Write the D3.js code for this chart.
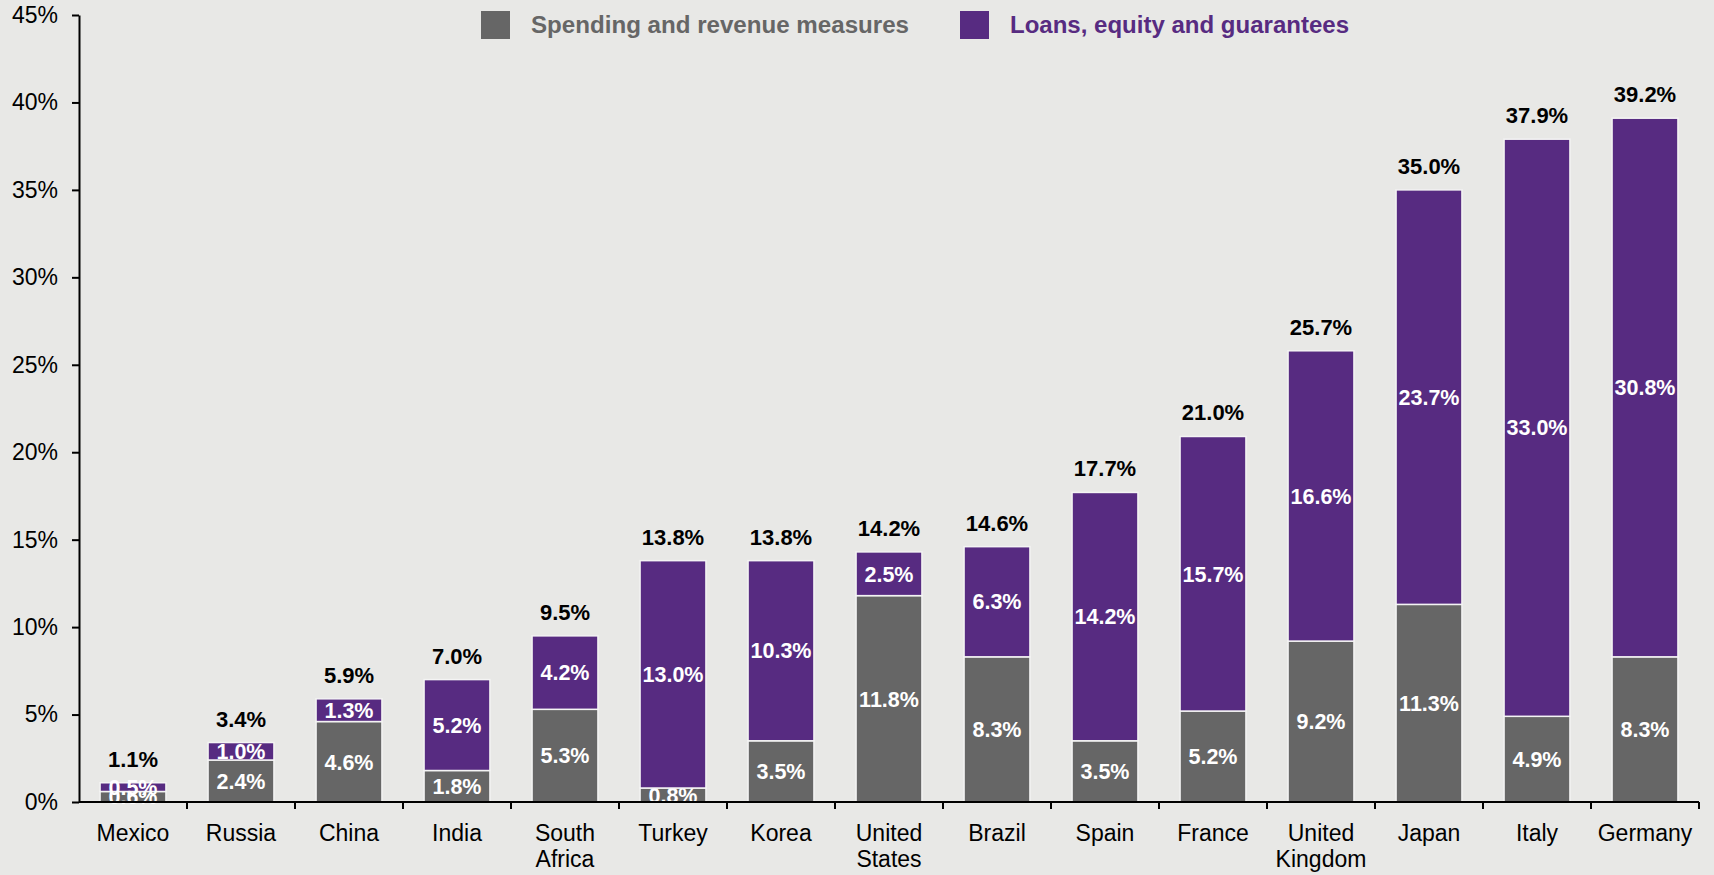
<!DOCTYPE html>
<html>
<head>
<meta charset="utf-8">
<script src="https://cdn.jsdelivr.net/npm/d3@7"></script>
<style>
  html, body { margin: 0; padding: 0; background: #e8e8e6; }
  svg { display: block; font-family: "Liberation Sans", Arial, sans-serif; }
</style>
</head>
<body>
<div id="chart"></div>
<script>
// Data
const countries = ["Mexico", "Russia", "China", "India", "South Africa", "Turkey", "Korea",
  "United States", "Brazil", "Spain", "France", "United Kingdom", "Japan", "Italy", "Germany"]
const spending = [0.6, 2.4, 4.6, 1.8, 5.3, 0.8, 3.5, 11.8, 8.3, 3.5, 5.2, 9.2, 11.3, 4.9, 8.3]
const loans = [0.5, 1.0, 1.3, 5.2, 4.2, 13.0, 10.3, 2.5, 6.3, 14.2, 15.7, 16.6, 23.7, 33.0, 30.8]
const totals = [1.1, 3.4, 5.9, 7.0, 9.5, 13.8, 13.8, 14.2, 14.6, 17.7, 21.0, 25.7, 35.0, 37.9, 39.2]
const yTicks = [0, 5, 10, 15, 20, 25, 30, 35, 40, 45]
const seriesNames = ["Spending and revenue measures", "Loans, equity and guarantees"]

// Settings
const SIZE = [1714, 875]
const MARGIN = {top: 15, right: 15, bottom: 73, left: 79}
const COLORS = ["#666666", "#572b81"]

const svg = d3.select("#chart").append("svg")
  .attr("width", SIZE[0])
  .attr("height", SIZE[1])

svg.append("rect")
  .attr("width", SIZE[0]).attr("height", SIZE[1])
  .attr("fill", "#e8e8e6")

const x = d3.scaleBand()
  .domain(countries)
  .range([MARGIN.left, SIZE[0] - MARGIN.right])
  .paddingInner(0.39)
  .paddingOuter(0.195)

const y = d3.scaleLinear()
  .domain([0, 45])
  .range([SIZE[1] - MARGIN.bottom, MARGIN.top])

const table = countries.map((c, i) => ({country: c, spending: spending[i], loans: loans[i], total: totals[i]}))
const stacked = d3.stack().keys(["spending", "loans"])(table)

// bars
const layers = svg.append("g")
  .selectAll("g")
  .data(stacked)
  .join("g")
    .attr("fill", (d, i) => COLORS[i])

layers.selectAll("rect")
  .data(d => d)
  .join("rect")
    .attr("x", d => x(d.data.country))
    .attr("width", x.bandwidth())
    .attr("y", d => y(d[1]))
    .attr("height", d => y(d[0]) - y(d[1]))
    .attr("stroke", "#f4f4f4")
    .attr("stroke-width", 1.5)

// segment labels (Mexico's overlap in the original too)
layers.selectAll("text")
  .data(d => d.map(p => ({p, key: d.key})))
  .join("text")
    .attr("x", d => x(d.p.data.country) + x.bandwidth() / 2)
    .attr("y", d => (y(d.p[0]) + y(d.p[1])) / 2)
    .attr("dy", "0.36em")
    .attr("text-anchor", "middle")
    .attr("fill", "#ffffff")
    .attr("font-weight", "bold")
    .attr("font-size", 21.5)
    .text(d => d.p.data[d.key].toFixed(1) + "%")

// totals
svg.append("g")
  .selectAll("text")
  .data(table)
  .join("text")
    .attr("x", d => x(d.country) + x.bandwidth() / 2)
    .attr("y", d => y(d.spending + d.loans) - 16)
    .attr("text-anchor", "middle")
    .attr("font-weight", "bold")
    .attr("font-size", 22)
    .attr("fill", "#000")
    .text(d => d.total.toFixed(1) + "%")

// y axis
svg.append("g")
  .attr("transform", `translate(${MARGIN.left},0)`)
  .call(d3.axisLeft(y).tickValues(yTicks).tickFormat(d => d + "%").tickSize(7).tickSizeOuter(0).tickPadding(14))
  .call(g => g.selectAll("text").attr("font-size", 23).attr("fill", "#000").attr("font-family", "Liberation Sans, Arial, sans-serif"))
  .call(g => g.selectAll("line, path").attr("stroke", "#000").attr("stroke-width", 2))

// x axis with ticks at band boundaries
const xAxisY = y(0)
const xg = svg.append("g")
xg.append("line")
  .attr("x1", MARGIN.left).attr("x2", SIZE[0] - MARGIN.right)
  .attr("y1", xAxisY).attr("y2", xAxisY)
  .attr("stroke", "#000").attr("stroke-width", 2)
const step = x.step()
const bounds = countries.map((c, i) => x(c) - x.paddingInner() * step / 2 + step)
xg.selectAll(".btick")
  .data(bounds)
  .join("line")
    .attr("x1", d => d).attr("x2", d => d)
    .attr("y1", xAxisY).attr("y2", xAxisY + 7)
    .attr("stroke", "#000").attr("stroke-width", 2)

xg.selectAll(".clabel")
  .data(countries)
  .join("text")
    .attr("x", d => x(d) + x.bandwidth() / 2)
    .attr("y", xAxisY + 39)
    .attr("text-anchor", "middle")
    .attr("font-size", 23)
    .attr("fill", "#000")
    .each(function(d) {
      const words = d.split(" ")
      const t = d3.select(this)
      words.forEach((w, i) => t.append("tspan")
        .attr("x", x(d) + x.bandwidth() / 2)
        .attr("dy", i === 0 ? 0 : 26)
        .text(w))
    })

// legend
const legendX = [481, 960]
const legend = svg.append("g")
  .selectAll("g")
  .data(seriesNames)
  .join("g")
    .attr("transform", (d, i) => `translate(${legendX[i]},11)`)
legend.append("rect")
  .attr("width", 29).attr("height", 28)
  .attr("fill", (d, i) => COLORS[i])
legend.append("text")
  .attr("x", 50)
  .attr("y", 14)
  .attr("dy", "0.36em")
  .attr("font-size", 23)
  .attr("font-weight", "bold")
  .attr("fill", (d, i) => COLORS[i])
  .attr("textLength", (d, i) => i === 0 ? 378 : 339)
  .attr("lengthAdjust", "spacingAndGlyphs")
  .text(d => d)
</script>
</body>
</html>
